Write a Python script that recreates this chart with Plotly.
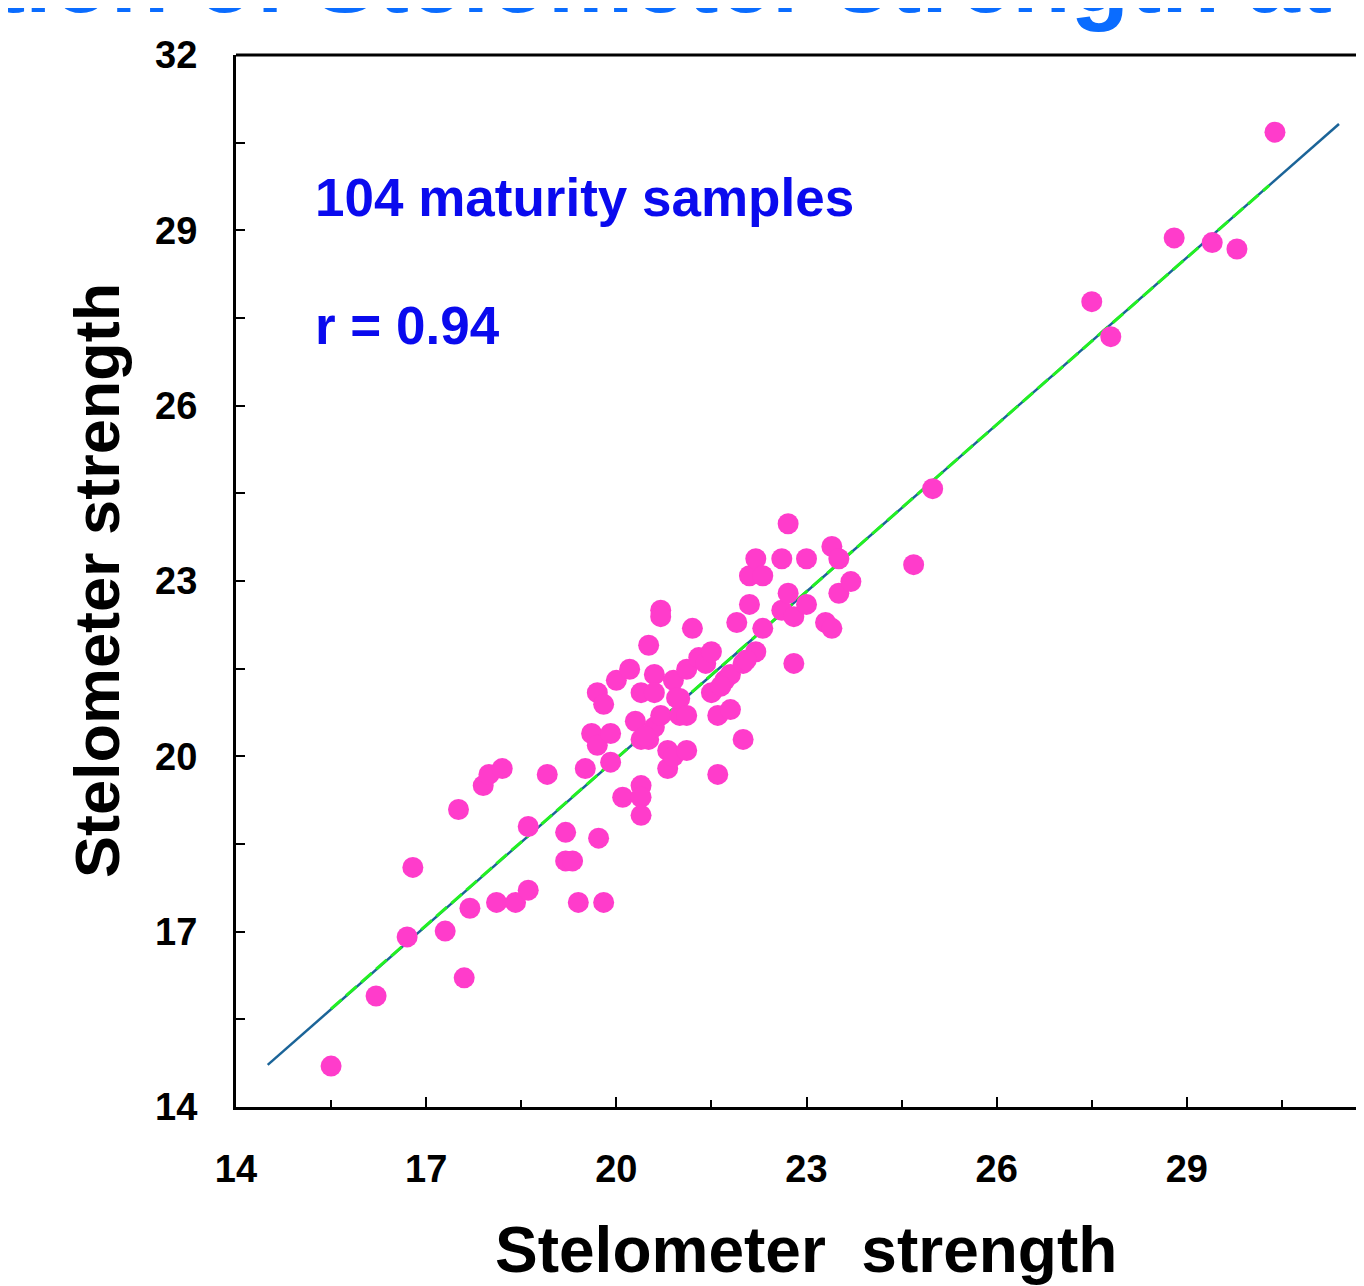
import plotly.graph_objects as go

# Scatter data: Stelometer strength (x) vs Stelometer strength (y)
x_vals = [15.50, 16.21, 16.70, 16.79, 17.30, 17.51, 17.60, 17.69, 17.90, 17.99,
          18.11, 18.20, 18.41, 18.61, 18.61, 18.91, 19.20, 19.20, 19.31, 19.40,
          19.51, 19.61, 19.70, 19.70, 19.72, 19.80, 19.80, 19.91, 19.91, 20.00,
          20.10, 20.21, 20.30, 20.39, 20.39, 20.39, 20.39, 20.39, 20.51, 20.51,
          20.60, 20.60, 20.60, 20.70, 20.70, 20.70, 20.81, 20.81, 20.90, 20.90,
          21.00, 21.00, 21.11, 21.11, 21.11, 21.20, 21.30, 21.41, 21.50, 21.50,
          21.60, 21.60, 21.71, 21.80, 21.80, 21.90, 22.00, 22.00, 22.10, 22.10,
          22.20, 22.20, 22.31, 22.31, 22.61, 22.61, 22.71, 22.71, 22.80, 22.80,
          23.00, 23.00, 23.30, 23.40, 23.40, 23.51, 23.51, 23.70, 24.69, 24.99,
          27.50, 27.80, 28.80, 29.40, 29.79, 30.39, 20.45, 21.65, 22.05, 20.95]
y_vals = [14.70, 15.90, 16.91, 18.10, 17.01, 19.09, 16.21, 17.40, 19.50, 19.69,
          17.50, 19.79, 17.50, 17.71, 18.80, 19.69, 18.70, 18.21, 18.21, 17.50,
          19.79, 20.39, 20.19, 21.09, 18.60, 20.89, 17.50, 20.39, 19.90, 21.30,
          19.30, 21.49, 20.60, 21.09, 20.29, 19.50, 19.30, 18.99, 21.90, 20.29,
          21.40, 21.09, 20.50, 22.50, 22.39, 20.70, 20.10, 19.79, 21.30, 20.00,
          20.99, 20.70, 21.49, 20.70, 20.10, 22.19, 21.69, 21.59, 21.79, 21.09,
          20.70, 19.69, 21.30, 21.40, 20.80, 22.29, 21.59, 20.29, 23.09, 22.60,
          23.38, 21.79, 23.09, 22.19, 23.38, 22.50, 23.98, 22.79, 22.39, 21.59,
          23.38, 22.60, 22.29, 23.59, 22.19, 23.38, 22.79, 22.99, 23.28, 24.58,
          27.78, 27.18, 28.87, 28.79, 28.68, 30.68, 20.35, 21.20, 21.65, 21.00]

# Fitted line and regression segment
fit_x = [14.50, 31.40]
fit_y = [14.72, 30.82]
reg_x = [15.50, 30.30]
reg_y = [15.68, 29.77]

tick_vals = [14, 17, 20, 23, 26, 29, 32]
tick_text = ["14", "17", "20", "23", "26", "29", "32"]

FONT = "Liberation Sans, Arial, sans-serif"

# page has an 8px body margin; figure coordinates are page - 8
OFF = 8
PL, PR, PT, PB = 236 - OFF, 1364 - OFF, 55 - OFF, 1107 - OFF
W, H = 1364 - OFF, 1286 - OFF

fig = go.Figure()
fig.add_trace(go.Scatter(x=fit_x, y=fit_y, mode="lines",
                         line=dict(color="#1b6498", width=2.5),
                         showlegend=False, hoverinfo="skip"))
fig.add_trace(go.Scatter(x=reg_x, y=reg_y, mode="lines",
                         line=dict(color="#22f022", width=3, dash="14px,6px"),
                         showlegend=False, hoverinfo="skip"))
fig.add_trace(go.Scatter(x=x_vals, y=y_vals, mode="markers",
                         marker=dict(color="#ff3ccb", size=21, line=dict(width=0)),
                         showlegend=False))

x_end = 14 + (PR - PL) / 63.39

fig.update_xaxes(range=[14, x_end], tickvals=tick_vals, ticktext=tick_text,
                 showgrid=False, zeroline=False, showline=True,
                 linecolor="black", linewidth=3, ticks="inside", ticklen=10,
                 tickwidth=2, tickcolor="black",
                 minor=dict(dtick=1.5, tick0=14, ticks="inside", ticklen=7,
                            tickwidth=2, tickcolor="black", showgrid=False),
                 tickfont=dict(family=FONT, size=38, color="black", weight="bold"),
                 ticklabelstandoff=26)
fig.update_yaxes(range=[14, 32], tickvals=tick_vals, ticktext=tick_text,
                 showgrid=False, zeroline=False, showline=True,
                 linecolor="black", linewidth=3, ticks="inside", ticklen=9,
                 tickwidth=2, tickcolor="black",
                 minor=dict(dtick=1.5, tick0=14, ticks="inside", ticklen=9,
                            tickwidth=2, tickcolor="black", showgrid=False),
                 tickfont=dict(family=FONT, size=38, color="black", weight="bold"),
                 ticklabelstandoff=28)

# top frame line
fig.add_shape(type="line", xref="paper", yref="paper", x0=0, x1=1, y0=1, y1=1,
              line=dict(color="black", width=3))

plot_w = PR - PL
plot_h = PB - PT

def px_x(p):
    return (p - OFF - PL) / plot_w

def px_y(p):
    return (PB - (p - OFF)) / plot_h

annos = [
    dict(text="104 maturity samples", x=px_x(313), y=px_y(197), xanchor="left",
         yanchor="middle", font=dict(family=FONT, size=53, color="#0a0aee", weight="bold")),
    dict(text="r = 0.94", x=px_x(313), y=px_y(325), xanchor="left",
         yanchor="middle", font=dict(family=FONT, size=53, color="#0a0aee", weight="bold")),
    dict(text="Stelometer  strength", x=px_x(806), y=px_y(1250), xanchor="center",
         yanchor="middle", font=dict(family=FONT, size=64, color="black", weight="bold")),
    dict(text="Stelometer strength", x=px_x(97), y=px_y(581), xanchor="center",
         yanchor="middle", textangle=-90,
         font=dict(family=FONT, size=63, color="black", weight="bold")),
    dict(text="Correlation of Stelometer strength at different maturity",
         x=px_x(-345), y=px_y(-22), xanchor="left", yanchor="middle",
         font=dict(family=FONT, size=96, color="#0a6cff", weight="bold")),
]
for a in annos:
    fig.add_annotation(xref="paper", yref="paper", showarrow=False, **a)

fig.update_layout(width=W, height=H,
                  margin=dict(l=PL, r=W - PR, t=PT, b=H - PB, pad=0),
                  plot_bgcolor="white", paper_bgcolor="white")

fig.write_html("out.html")
